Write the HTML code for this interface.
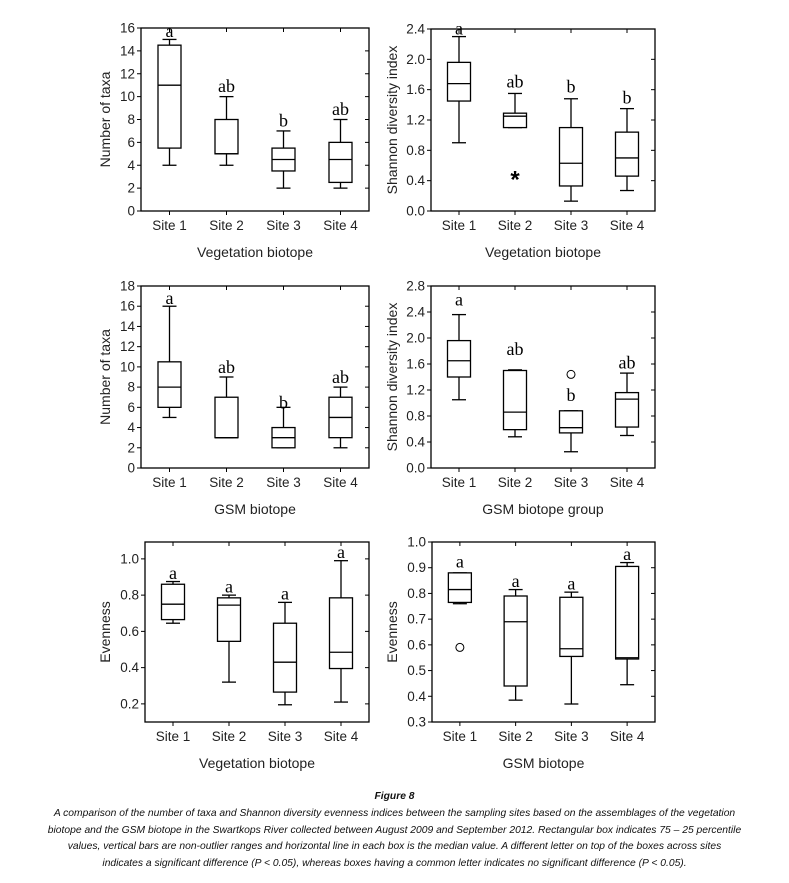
<!DOCTYPE html>
<html><head><meta charset="utf-8"><style>
body{margin:0;background:#fff;width:789px;height:883px;overflow:hidden;font-family:"Liberation Sans",sans-serif}
svg{position:absolute;left:0;top:0}
.cap{position:absolute;left:0;width:789px;text-align:center;font-style:italic;font-size:10.3px;line-height:16.5px;color:#111}
</style></head><body>
<svg id="fig" width="789" height="883" xmlns="http://www.w3.org/2000/svg"></svg>
<div class="cap" style="top:789px;font-weight:bold">Figure 8</div>
<div class="cap" style="top:806px">A comparison of the number of taxa and Shannon diversity evenness indices between the sampling sites based on the assemblages of the vegetation<br>biotope and the GSM biotope in the Swartkops River collected between August 2009 and September 2012. Rectangular box indicates 75 – 25 percentile<br>values, vertical bars are non-outlier ranges and horizontal line in each box is the median value. A different letter on top of the boxes across sites<br>indicates a significant difference (P &lt; 0.05), whereas boxes having a common letter indicates no significant difference (P &lt; 0.05).</div>
<script>
const sites=["Site 1","Site 2","Site 3","Site 4"];
// Panel 1: Number of taxa, vegetation
const p1Min=[4,4,2,2], p1Q1=[5.5,5,3.5,2.5], p1Med=[11,5,4.5,4.5], p1Q3=[14.5,8,5.5,6], p1Max=[15,10,7,8];
const p1Let=["a","ab","b","ab"], p1LetY=[15.2,10.4,7.4,8.4], p1Ticks=[0,2,4,6,8,10,12,14,16];
// Panel 2: Shannon, vegetation
const p2Min=[0.9,1.1,0.13,0.27], p2Q1=[1.45,1.1,0.33,0.46], p2Med=[1.68,1.25,0.63,0.7], p2Q3=[1.96,1.29,1.1,1.04], p2Max=[2.3,1.55,1.48,1.35];
const p2Let=["a","ab","b","b"], p2LetY=[2.33,1.63,1.56,1.42], p2Ticks=[0,0.4,0.8,1.2,1.6,2.0,2.4];
const p2Out=[null,0.44,null,null];
// Panel 3: Number of taxa, GSM
const p3Min=[5,3,2,2], p3Q1=[6,3,2,3], p3Med=[8,3,3,5], p3Q3=[10.5,7,4,7], p3Max=[16,9,6,8];
const p3Let=["a","ab","b","ab"], p3LetY=[16.2,9.4,5.9,8.4], p3Ticks=[0,2,4,6,8,10,12,14,16,18];
// Panel 4: Shannon, GSM
const p4Min=[1.05,0.48,0.25,0.5], p4Q1=[1.4,0.59,0.54,0.63], p4Med=[1.65,0.86,0.62,1.06], p4Q3=[1.96,1.5,0.88,1.16], p4Max=[2.36,1.51,0.88,1.46];
const p4Let=["a","ab","b","ab"], p4LetY=[2.5,1.74,1.03,1.53], p4Ticks=[0,0.4,0.8,1.2,1.6,2.0,2.4,2.8];
const p4Out=[null,null,1.44,null];
// Panel 5: Evenness, vegetation
const p5Min=[0.645,0.32,0.195,0.21], p5Q1=[0.665,0.545,0.265,0.395], p5Med=[0.75,0.745,0.43,0.485], p5Q3=[0.86,0.785,0.645,0.785], p5Max=[0.875,0.8,0.76,0.99];
const p5Let=["a","a","a","a"], p5LetY=[0.89,0.815,0.775,1.005], p5Ticks=[0.2,0.4,0.6,0.8,1.0];
// Panel 6: Evenness, GSM
const p6Min=[0.76,0.385,0.37,0.445], p6Q1=[0.765,0.44,0.555,0.545], p6Med=[0.815,0.69,0.585,0.55], p6Q3=[0.88,0.79,0.785,0.905], p6Max=[0.88,0.815,0.805,0.92];
const p6Let=["a","a","a","a"], p6LetY=[0.9,0.825,0.815,0.93], p6Ticks=[0.3,0.4,0.5,0.6,0.7,0.8,0.9,1.0];
const p6Out=[0.59,null,null,null];

const NS="http://www.w3.org/2000/svg", svg=document.getElementById("fig");
function mk(tag,at,parent){const e=document.createElementNS(NS,tag);for(const k in at)e.setAttribute(k,at[k]);(parent||svg).appendChild(e);return e;}
function panel(o){
  const g=mk("g",{});
  
  
  const y=v=>o.y1-(v-o.d0)/(o.d1-o.d0)*(o.y1-o.y0);
  const bw=(o.x1-o.x0)/sites.length;
  const x=i=>o.x0+bw*(i+0.5);
  const fr=mk("rect",{x:o.x0,y:o.y0,width:o.x1-o.x0,height:o.y1-o.y0,fill:"none",stroke:"#000","stroke-width":1.3},g);
  
  
  o.ticks.forEach(t=>{
    const ty=y(t);
    mk("line",{x1:o.x0-4,x2:o.x0,y1:ty,y2:ty,stroke:"#000"},g);
    mk("line",{x1:o.x1-4,x2:o.x1,y1:ty,y2:ty,stroke:"#000"},g);
    const tl=mk("text",{x:o.x0-6,y:ty+4.5,"text-anchor":"end","font-size":13.5,fill:"#222"},g);
    tl.textContent=o.fmt(t);
    
    
  });
  sites.forEach((s,i)=>{
    const cx=x(i);
    mk("line",{x1:cx,x2:cx,y1:o.y1,y2:o.y1+4,stroke:"#000"},g);
    mk("line",{x1:cx,x2:cx,y1:o.y0,y2:o.y0+4,stroke:"#000"},g);
    const xl=mk("text",{x:cx,y:o.y1+19,"text-anchor":"middle","font-size":13.5,fill:"#222"},g);
    xl.textContent=s;
    
    
    const b=mk("g",{stroke:"#000","stroke-width":1.3,fill:"none"},g);
    
    
    const hw=11.5, cw=7;
    mk("line",{x1:cx,x2:cx,y1:y(o.max[i]),y2:y(o.q3[i])},b);
    mk("line",{x1:cx,x2:cx,y1:y(o.q1[i]),y2:y(o.min[i])},b);
    mk("line",{x1:cx-cw,x2:cx+cw,y1:y(o.max[i]),y2:y(o.max[i])},b);
    mk("line",{x1:cx-cw,x2:cx+cw,y1:y(o.min[i]),y2:y(o.min[i])},b);
    mk("rect",{x:cx-hw,y:y(o.q3[i]),width:2*hw,height:Math.max(0.5,y(o.q1[i])-y(o.q3[i])),fill:"#fff"},b);
    mk("line",{x1:cx-hw,x2:cx+hw,y1:y(o.med[i]),y2:y(o.med[i])},b);
    if(o.out&&o.out[i]!=null){
      if(o.star){const st=mk("text",{x:cx,y:y(o.out[i])+10,"text-anchor":"middle","font-size":24,"font-weight":"bold",fill:"#000",stroke:"none"},g);st.textContent="*";
        
        }
      else{const c=mk("circle",{cx:cx,cy:y(o.out[i]),r:4,fill:"none",stroke:"#000"},g);
        
        }
    }
    const L=mk("text",{x:cx,y:y(o.letY[i]),"text-anchor":"middle","font-size":18,"font-family":"Liberation Serif, serif",fill:"#000"},g);
    L.textContent=o.let[i];
    
    
  });
  const yt=mk("text",{transform:`translate(${o.ytx},${(o.y0+o.y1)/2}) rotate(-90)`,"text-anchor":"middle","font-size":14,fill:"#222"},g);
  yt.textContent=o.ytitle;
  
  
  const xt=mk("text",{x:(o.x0+o.x1)/2,y:o.y1+46,"text-anchor":"middle","font-size":14,fill:"#222"},g);
  xt.textContent=o.xtitle;
  
  
}
const f0=v=>String(v), f1=v=>v.toFixed(1);
panel({name:"panel-taxa-vegetation",x0:141,x1:369,y0:28,y1:211,d0:0,d1:16,ticks:p1Ticks,fmt:f0,min:p1Min,q1:p1Q1,med:p1Med,q3:p1Q3,max:p1Max,let:p1Let,letY:p1LetY,ytitle:"Number of taxa",xtitle:"Vegetation biotope",ytx:110});
panel({name:"panel-shannon-vegetation",x0:431,x1:655,y0:29,y1:211,d0:0,d1:2.4,ticks:p2Ticks,fmt:f1,min:p2Min,q1:p2Q1,med:p2Med,q3:p2Q3,max:p2Max,let:p2Let,letY:p2LetY,out:p2Out,star:true,ytitle:"Shannon diversity index",xtitle:"Vegetation biotope",ytx:397});
panel({name:"panel-taxa-gsm",x0:141,x1:369,y0:286,y1:468,d0:0,d1:18,ticks:p3Ticks,fmt:f0,min:p3Min,q1:p3Q1,med:p3Med,q3:p3Q3,max:p3Max,let:p3Let,letY:p3LetY,ytitle:"Number of taxa",xtitle:"GSM biotope",ytx:110});
panel({name:"panel-shannon-gsm",x0:431,x1:655,y0:286,y1:468,d0:0,d1:2.8,ticks:p4Ticks,fmt:f1,min:p4Min,q1:p4Q1,med:p4Med,q3:p4Q3,max:p4Max,let:p4Let,letY:p4LetY,out:p4Out,ytitle:"Shannon diversity index",xtitle:"GSM biotope group",ytx:397});
panel({name:"panel-evenness-vegetation",x0:145,x1:369,y0:542,y1:722,d0:0.1,d1:1.0931,ticks:p5Ticks,fmt:f1,min:p5Min,q1:p5Q1,med:p5Med,q3:p5Q3,max:p5Max,let:p5Let,letY:p5LetY,ytitle:"Evenness",xtitle:"Vegetation biotope",ytx:110});
panel({name:"panel-evenness-gsm",x0:432,x1:655,y0:542,y1:722,d0:0.3,d1:1.0,ticks:p6Ticks,fmt:f1,min:p6Min,q1:p6Q1,med:p6Med,q3:p6Q3,max:p6Max,let:p6Let,letY:p6LetY,out:p6Out,ytitle:"Evenness",xtitle:"GSM biotope",ytx:397});
</script>
</body></html>
